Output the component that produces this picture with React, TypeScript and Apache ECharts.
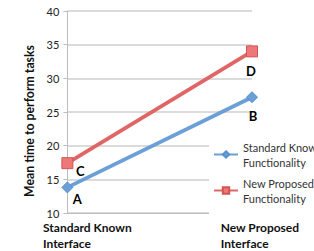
import React, { useEffect, useRef } from "react";
import * as echarts from "echarts";

const categories = ["Standard Known\nInterface", "New Proposed\nInterface"];
const seriesNames = ["Standard Known Functionality", "New Proposed Functionality"];
const standardValues = [13.8, 27.2];
const proposedValues = [17.4, 34.0];
const standardLetters = ["A", "B"];
const proposedLetters = ["C", "D"];
const yTicks = { min: 10, max: 40, interval: 5 };

const FONT = "Lato, 'Open Sans', sans-serif";

export default function App() {
  const ref = useRef<HTMLDivElement>(null);
  useEffect(() => {
    if (!ref.current) return;
    const chart = echarts.init(ref.current, undefined, { renderer: "svg" });
    const mkLabel = (letters: string[], offsets: number[][]) => (v: number, i: number) => ({
      value: v,
      label: {
        show: true,
        formatter: letters[i],
        position: "inside",
        offset: offsets[i],
        fontFamily: FONT,
        fontWeight: "bold",
        fontSize: 13,
        color: "#000",
      },
    });
    chart.setOption({
      animation: false,
      textStyle: { fontFamily: FONT },
      grid: { left: 53, right: 62, top: 11, bottom: 34, containLabel: false },
      legend: {
        orient: "vertical",
        left: 209,
        top: 128,
        padding: [4, 0, 4, 4],
        backgroundColor: "#fff",
        itemWidth: 24,
        itemHeight: 8,
        itemGap: -9,
        textStyle: {
          fontFamily: FONT,
          fontSize: 11,
          color: "#333",
          lineHeight: 15,
          padding: [15, 0, 0, 0],
        },
        formatter: (name: string) => name.replace(/ (\S+)$/, "\n$1"),
        data: seriesNames,
      },
      xAxis: {
        type: "category",
        boundaryGap: false,
        data: [
          { value: categories[0], textStyle: { padding: [0, 0, 0, 40] } },
          { value: categories[1], textStyle: { padding: [0, 0, 0, 16] } },
        ],
        axisLine: { lineStyle: { color: "#bdbdbd", width: 1 } },
        axisTick: { show: false },
        axisLabel: {
          interval: 0,
          margin: 6,
          fontFamily: FONT,
          fontWeight: "bold",
          fontSize: 12,
          color: "#111",
          lineHeight: 16,
          formatter: (v: string) =>
            v
              .split("\n")
              .map((s) => `{a|${s}}`)
              .join("\n"),
          rich: { a: { align: "left", fontFamily: FONT, fontWeight: "bold", fontSize: 12, color: "#111" } },
        },
      },
      yAxis: {
        type: "value",
        min: yTicks.min,
        max: yTicks.max,
        interval: yTicks.interval,
        name: "Mean time to perform tasks",
        nameLocation: "middle",
        nameGap: 30,
        nameTextStyle: { fontFamily: FONT, fontWeight: "bold", fontSize: 12.3, color: "#111", padding: [0, 0, 0, -18] },
        axisLine: { show: true, lineStyle: { color: "#bdbdbd", width: 1 } },
        axisTick: { show: true, length: 4, lineStyle: { color: "#bdbdbd" } },
        axisLabel: { fontFamily: FONT, fontSize: 11, color: "#222", margin: 8 },
        splitLine: { lineStyle: { color: "#cfcfcf", width: 1.5 } },
      },
      series: [
        {
          name: seriesNames[0],
          type: "line",
          data: standardValues.map(mkLabel(standardLetters, [[10, 12], [1, 19]])),
          symbol: "diamond",
          symbolSize: 11,
          lineStyle: { color: "#6a9fd8", width: 3.8 },
          itemStyle: { color: "#6a9fd8", borderColor: "#5a8fc8", borderWidth: 1 },
          z: 3,
        },
        {
          name: seriesNames[1],
          type: "line",
          data: proposedValues.map(mkLabel(proposedLetters, [[13, 8], [-1, 20]])),
          symbol: "rect",
          symbolSize: 11,
          lineStyle: { color: "#e06666", width: 3.8 },
          itemStyle: { color: "#ee7777", borderColor: "#d05555", borderWidth: 1 },
          z: 3,
        },
      ],
    });
    return () => chart.dispose();
  }, []);
  return <div ref={ref} style={{ width: 314, height: 251, position: "absolute", left: 0, top: 0 }} />;
}
